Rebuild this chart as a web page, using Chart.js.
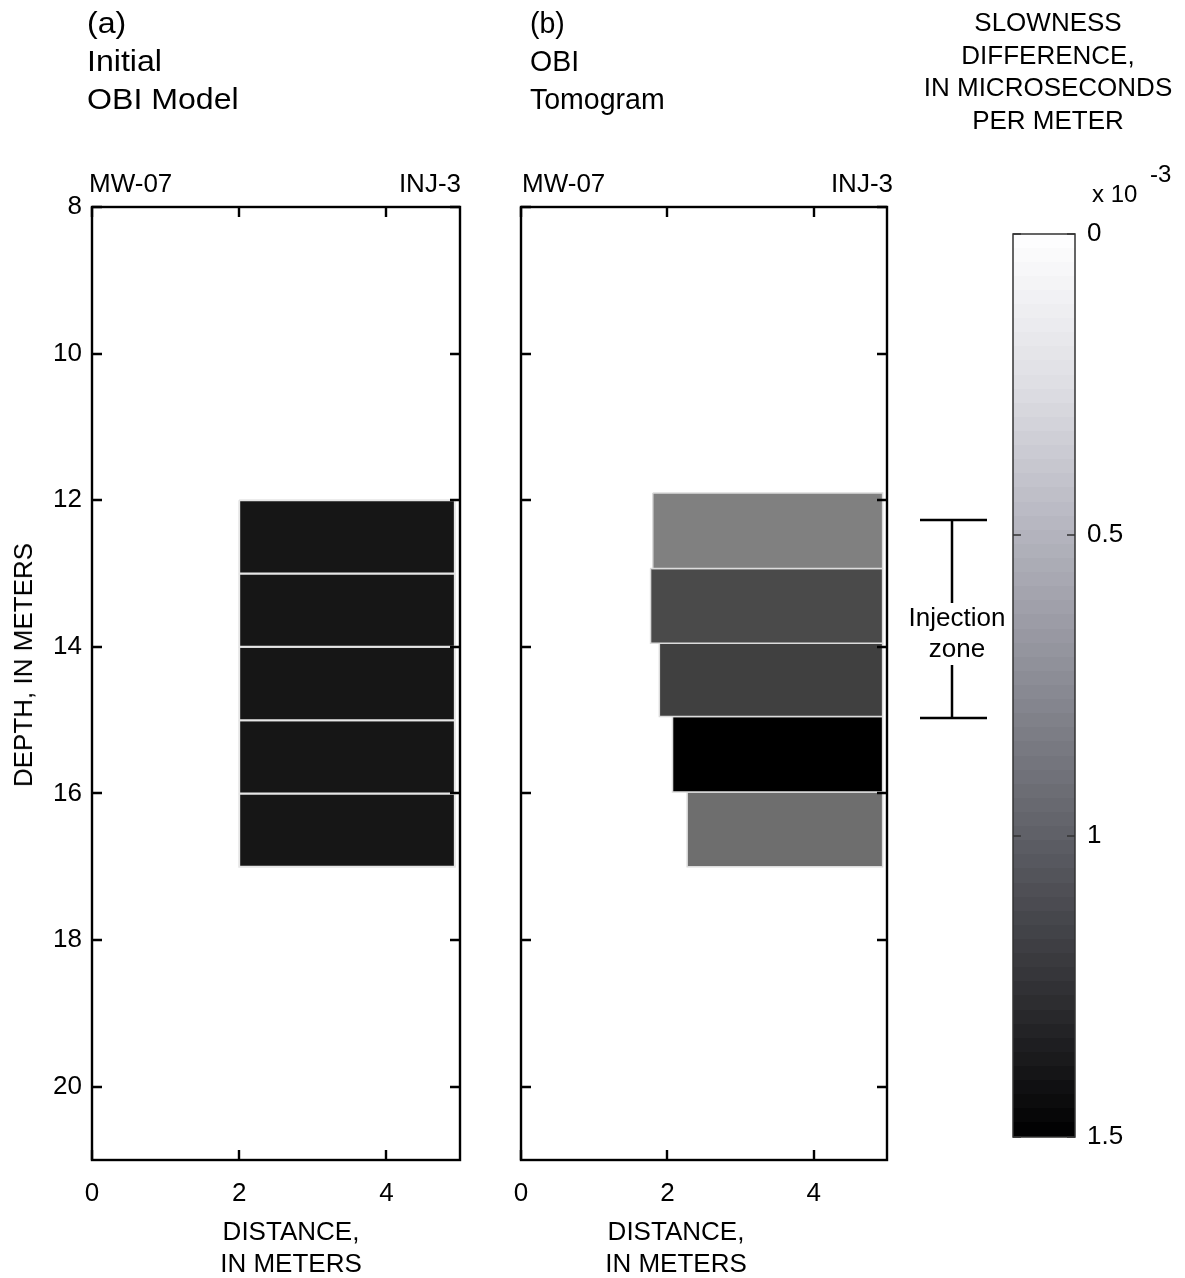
<!DOCTYPE html>
<html>
<head>
<meta charset="utf-8">
<script src="https://cdn.jsdelivr.net/npm/chart.js@4.4.1/dist/chart.umd.min.js"></script>
<style>
  html, body { margin: 0; padding: 0; background: #fff; }
  #fig { position: relative; width: 1185px; height: 1278px; overflow: hidden;
         font-family: 'Liberation Sans', Arial, sans-serif; color: #000; }
  #fig canvas { position: absolute; top: 0; }
  .t { position: absolute; white-space: nowrap; }
  .title { font-size: 30px; line-height: 38px; transform-origin: 0 0; }
  .well { font-size: 26px; line-height: 26px; }
  .ctr { text-align: center; }
</style>
</head>
<body>
<div id="fig">
  <canvas id="cA" width="480" height="1278" style="left:0px"></canvas>
  <canvas id="cB" width="530" height="1278" style="left:480px"></canvas>
  <canvas id="cC" width="185" height="1278" style="left:1000px"></canvas>

  <div class="t title" style="left:87px; top:4px; transform: scaleX(1.07);">(a)<br>Initial<br>OBI Model</div>
  <div class="t title" style="left:530px; top:4px; transform: scaleX(0.95);">(b)<br>OBI<br>Tomogram</div>

  <div class="t well" style="left:89px; top:170px;">MW-07</div>
  <div class="t well" style="left:361px; top:170px; width:100px; text-align:right;">INJ-3</div>
  <div class="t well" style="left:522px; top:170px;">MW-07</div>
  <div class="t well" style="left:793px; top:170px; width:100px; text-align:right;">INJ-3</div>

  <div class="t ctr" style="left:898px; width:300px; top:6px; font-size:26px; line-height:32.5px;">SLOWNESS<br>DIFFERENCE,<br>IN MICROSECONDS<br>PER METER</div>
  <div class="t" style="left:1092px; top:182px; font-size:24px; line-height:24px;">x 10</div>
  <div class="t" style="left:1150px; top:162px; font-size:24px; line-height:24px;">-3</div>

  <div class="t ctr" style="left:141px; width:300px; top:1215px; font-size:26px; line-height:32px;">DISTANCE,<br>IN METERS</div>
  <div class="t ctr" style="left:526px; width:300px; top:1215px; font-size:26px; line-height:32px;">DISTANCE,<br>IN METERS</div>

  <div class="t" style="left:23px; top:665px; font-size:26px; line-height:26px; transform: translate(-50%,-50%) rotate(-90deg);">DEPTH, IN METERS</div>
</div>

<script>
// ---- axis ticks ----
const distanceTicks = [0, 2, 4];
const depthTicks = [8, 10, 12, 14, 16, 18, 20];
const slownessTicks = [0, 0.5, 1, 1.5];
const slownessTickLabels = ['0', '0.5', '1', '1.5'];

// ---- (a) initial model layers: depth range, distance range, slowness difference (x 10^-3 us/m) ----
const modelTop    = [12, 13, 14, 15, 16];
const modelBottom = [13, 14, 15, 16, 17];
const modelLeft   = [2, 2, 2, 2, 2];
const modelRight  = [4.93, 4.93, 4.93, 4.93, 4.93];
const modelValue  = [1.37, 1.37, 1.37, 1.37, 1.37];

// ---- (b) tomogram layers ----
const tomoTop    = [11.9, 12.93, 13.95, 14.95, 15.98];
const tomoBottom = [12.93, 13.95, 14.95, 15.98, 17.0];
const tomoLeft   = [1.80, 1.77, 1.89, 2.07, 2.27];
const tomoRight  = [4.94, 4.94, 4.94, 4.94, 4.94];
const tomoValue  = [0.75, 1.065, 1.125, 1.5, 0.855];

// ---- injection interval, depth in meters ----
const injectionZone = [12.27, 14.97];

const slownessMax = 1.5;
const FONT = "'Liberation Sans', Arial, sans-serif";
Chart.defaults.font.family = FONT;
Chart.defaults.font.size = 26;
Chart.defaults.color = '#000';

// neutral grey used for the layer fills
function layerGrey(v) {
  const g = Math.round(255 * (1 - v / slownessMax));
  return `rgb(${g},${g},${g})`;
}

// colour bar map (slightly blue-tinted grey), value -> rgb
const barStops = [
  [0.00, [255, 255, 255]],
  [0.25, [222, 222, 228]],
  [0.50, [180, 180, 190]],
  [0.75, [138, 139, 148]],
  [1.00, [ 95,  96, 103]],
  [1.25, [ 50,  50,  54]],
  [1.50, [  0,   0,   0]]
];
function barColour(v) {
  for (let i = 1; i < barStops.length; i++) {
    const [v0, c0] = barStops[i - 1], [v1, c1] = barStops[i];
    if (v <= v1) {
      const f = (v - v0) / (v1 - v0);
      const c = c0.map((k, j) => Math.round(k + (c1[j] - k) * f));
      return `rgb(${c[0]},${c[1]},${c[2]})`;
    }
  }
  return 'rgb(0,0,0)';
}

function layerDatasets(top, bottom, left, right, value, edge, edgeWidth) {
  return top.map((t, i) => ({
    data: [
      { x: left[i],  y: t },
      { x: right[i], y: t },
      { x: right[i], y: bottom[i] },
      { x: left[i],  y: bottom[i] },
      { x: left[i],  y: t }
    ],
    showLine: true,
    fill: 'shape',
    tension: 0,
    backgroundColor: layerGrey(value[i]),
    borderColor: edge,
    borderWidth: edgeWidth,
    borderJoinStyle: 'miter',
    pointRadius: 0,
    pointHoverRadius: 0
  }));
}

// box around the plot area with inward tick marks
const framePlugin = {
  id: 'frame',
  afterDatasetsDraw(chart, args, o) {
    const { ctx, chartArea: a, scales } = chart;
    ctx.save();
    ctx.strokeStyle = o.color;
    ctx.lineWidth = o.width;
    ctx.lineCap = 'butt';
    ctx.beginPath();
    if (o.xTicks) {
      scales.x.ticks.forEach(t => {
        const px = Math.round(scales.x.getPixelForValue(t.value));
        ctx.moveTo(px, a.top); ctx.lineTo(px, a.top + o.len);
        ctx.moveTo(px, a.bottom); ctx.lineTo(px, a.bottom - o.len);
      });
    }
    scales.y.ticks.forEach(t => {
      const py = Math.round(scales.y.getPixelForValue(t.value));
      ctx.moveTo(a.left, py); ctx.lineTo(a.left + o.len, py);
      ctx.moveTo(a.right, py); ctx.lineTo(a.right - o.len, py);
    });
    ctx.stroke();
    ctx.strokeRect(a.left, a.top, a.right - a.left, a.bottom - a.top);
    ctx.restore();
  }
};

// bracket marking the injection interval to the right of panel (b)
const injectionPlugin = {
  id: 'injection',
  afterDraw(chart) {
    const { ctx, chartArea: a, scales } = chart;
    const y0 = scales.y.getPixelForValue(injectionZone[0]);
    const y1 = scales.y.getPixelForValue(injectionZone[1]);
    const mid = (y0 + y1) / 2;
    const xc = a.right + 65;
    ctx.save();
    ctx.strokeStyle = '#000';
    ctx.lineWidth = 2.5;
    ctx.beginPath();
    ctx.moveTo(a.right + 33, y0); ctx.lineTo(a.right + 100, y0);
    ctx.moveTo(a.right + 33, y1); ctx.lineTo(a.right + 100, y1);
    ctx.moveTo(xc, y0); ctx.lineTo(xc, mid - 16);
    ctx.moveTo(xc, mid + 46); ctx.lineTo(xc, y1);
    ctx.stroke();
    ctx.fillStyle = '#000';
    ctx.font = '26px ' + FONT;
    ctx.textAlign = 'center';
    ctx.textBaseline = 'alphabetic';
    ctx.fillText('Injection', a.right + 70, mid + 7);
    ctx.fillText('zone', a.right + 70, mid + 38);
    ctx.restore();
  }
};

// stepped colour bar drawn along the slowness scale
const colourBarPlugin = {
  id: 'colourBar',
  beforeDatasetsDraw(chart) {
    const { ctx, chartArea: a, scales } = chart;
    const steps = 64;
    ctx.save();
    for (let i = 0; i < steps; i++) {
      const v0 = slownessMax * i / steps, v1 = slownessMax * (i + 1) / steps;
      const p0 = scales.y.getPixelForValue(v0), p1 = scales.y.getPixelForValue(v1);
      ctx.fillStyle = barColour((v0 + v1) / 2);
      ctx.fillRect(a.left, Math.floor(p0), a.right - a.left, Math.ceil(p1) - Math.floor(p0));
    }
    ctx.restore();
  }
};

function panelOptions(rightPad, yWidth, showDepthLabels) {
  return {
    responsive: false,
    animation: false,
    devicePixelRatio: 1,
    layout: { padding: { left: 0, top: 207, right: rightPad, bottom: 58 } },
    plugins: {
      legend: { display: false },
      tooltip: { enabled: false },
      frame: { color: '#000', width: 2.4, len: 10, xTicks: true }
    },
    events: [],
    scales: {
      x: {
        type: 'linear', position: 'bottom', min: 0, max: 5,
        afterBuildTicks: s => { s.ticks = distanceTicks.map(v => ({ value: v })); },
        afterFit: s => { s.height = 60; },
        grid: { display: false, drawTicks: false },
        border: { display: false },
        ticks: { padding: 18, maxRotation: 0, font: { size: 26 } }
      },
      y: {
        type: 'linear', position: 'left', min: 8, max: 21, reverse: true,
        afterBuildTicks: s => { s.ticks = depthTicks.map(v => ({ value: v })); },
        afterFit: s => { s.width = yWidth; },
        grid: { display: false, drawTicks: false },
        border: { display: false },
        ticks: { display: showDepthLabels, padding: 10, font: { size: 26 } }
      }
    }
  };
}

new Chart(document.getElementById('cA'), {
  type: 'scatter',
  data: { datasets: layerDatasets(modelTop, modelBottom, modelLeft, modelRight, modelValue, '#e6e6e6', 2) },
  options: panelOptions(20, 92, true),
  plugins: [framePlugin]
});

new Chart(document.getElementById('cB'), {
  type: 'scatter',
  data: { datasets: layerDatasets(tomoTop, tomoBottom, tomoLeft, tomoRight, tomoValue, '#dcdcdc', 1.5) },
  options: panelOptions(123, 41, false),
  plugins: [framePlugin, injectionPlugin]
});

new Chart(document.getElementById('cC'), {
  type: 'scatter',
  data: { datasets: [] },
  options: {
    responsive: false,
    animation: false,
    devicePixelRatio: 1,
    events: [],
    layout: { padding: { left: 13, top: 234, right: 0, bottom: 141 } },
    plugins: {
      legend: { display: false },
      tooltip: { enabled: false },
      frame: { color: '#333', width: 1.5, len: 8, xTicks: false }
    },
    scales: {
      x: { type: 'linear', display: false, min: 0, max: 1 },
      y: {
        type: 'linear', position: 'right', min: 0, max: slownessMax, reverse: true,
        afterBuildTicks: s => { s.ticks = slownessTicks.map(v => ({ value: v })); },
        afterFit: s => { s.width = 110; },
        grid: { display: false, drawTicks: false },
        border: { display: false },
        ticks: {
          padding: 12, font: { size: 26 },
          callback: (v, i) => slownessTickLabels[i]
        }
      }
    }
  },
  plugins: [colourBarPlugin, framePlugin]
});
</script>
</body>
</html>
